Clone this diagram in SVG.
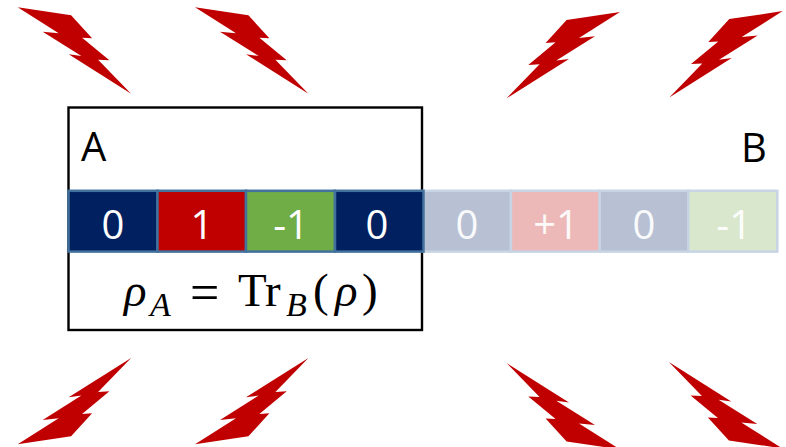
<svg xmlns="http://www.w3.org/2000/svg" width="786" height="447" viewBox="0 0 786 447">
<style>
.bolt{fill:#C00000}
.c{stroke:#41719C;stroke-width:2.5}
.p{stroke:#C6D4E4;stroke-width:2.5}
.d{font-family:"Open Sans","Noto Sans",sans-serif;font-size:40px;fill:#fff;text-anchor:middle}
.l{font-family:"Open Sans","Noto Sans",sans-serif;font-size:40px;fill:#000}
.m{font-family:"Liberation Serif","DejaVu Serif",serif;font-size:47px;fill:#000}
.i{font-style:italic}
.s{font-size:34px}
.e{font-size:52px}
</style>
<defs>
<path id="b" d="M17.3 7.3L70.7 15.3L91.7 38.3L81.7 37.7L109 60.3L97.7 59.7L130.7 93.7L68.3 54.3L81 56L42.3 31.7L58.3 33.3Z"/>
</defs>
<rect width="786" height="447" fill="#fff"/>
<g id="bolts" class="bolt">
<use href="#b" transform="translate(.4 0)"/>
<use href="#b" transform="translate(177.7 0)"/>
<use href="#b" transform="translate(637.3 4.6) scale(-1 1)"/>
<use href="#b" transform="translate(800 3.8) scale(-1 1)"/>
<use href="#b" transform="translate(.4 451.6) scale(1 -1)"/>
<use href="#b" transform="translate(177.7 451.6) scale(1 -1)"/>
<use href="#b" transform="translate(637.3 456.7) scale(-1 -1)"/>
<use href="#b" transform="translate(799.6 455.7) scale(-1 -1)"/>
</g>
<g id="node-A-box"><rect x="68.5" y="107.5" width="353.5" height="222.5" fill="none" stroke="#000" stroke-width="2.4"/></g>
<g id="cells-B">
<g id="b0"><rect class="p" x="423.5" y="190.8" width="87.5" height="60.8" fill="#B8C0D3"/><text class="d" x="467" y="239" opacity=".92">0</text></g>
<g id="b1"><rect class="p" x="511" y="190.8" width="88.7" height="60.8" fill="#EDB8B8"/><text class="d" x="556" y="239" opacity=".92">+1</text></g>
<g id="b2"><rect class="p" x="599.7" y="190.8" width="88.6" height="60.8" fill="#B8C0D3"/><text class="d" x="644" y="239" opacity=".92">0</text></g>
<g id="b3"><rect class="p" x="688.3" y="190.8" width="89" height="60.8" fill="#D9E8CD"/><text class="d" x="734" y="239" opacity=".92">-1</text></g>
</g>
<g id="cells-A">
<g id="a0"><rect class="c" x="68.5" y="190.8" width="89" height="60.8" fill="#002060"/><text class="d" x="113" y="239">0</text></g>
<g id="a1"><rect class="c" x="157.5" y="190.8" width="88.5" height="60.8" fill="#C00000"/><text class="d" x="202" y="239">1</text></g>
<g id="a2"><rect class="c" x="246" y="190.8" width="89" height="60.8" fill="#70AD47"/><text class="d" x="291" y="239">-1</text></g>
<g id="a3"><rect class="c" x="335" y="190.8" width="88.5" height="60.8" fill="#002060"/><text class="d" x="377" y="239">0</text></g>
</g>
<g id="label-A"><text class="l" x="81" y="161">A</text></g>
<g id="label-B"><text class="l" x="741" y="162">B</text></g>
<g id="formula"><text class="m"><tspan class="i" x="124" y="306">ρ</tspan><tspan class="i s" x="150" y="316">A</tspan><tspan class="e" x="190" y="310">=</tspan><tspan x="238" y="306">Tr</tspan><tspan class="i s" x="286" y="316">B</tspan><tspan x="313" y="306">(</tspan><tspan class="i" x="335" y="306">ρ</tspan><tspan x="362" y="306">)</tspan></text></g>
<g id="connectors"/>
</svg>
